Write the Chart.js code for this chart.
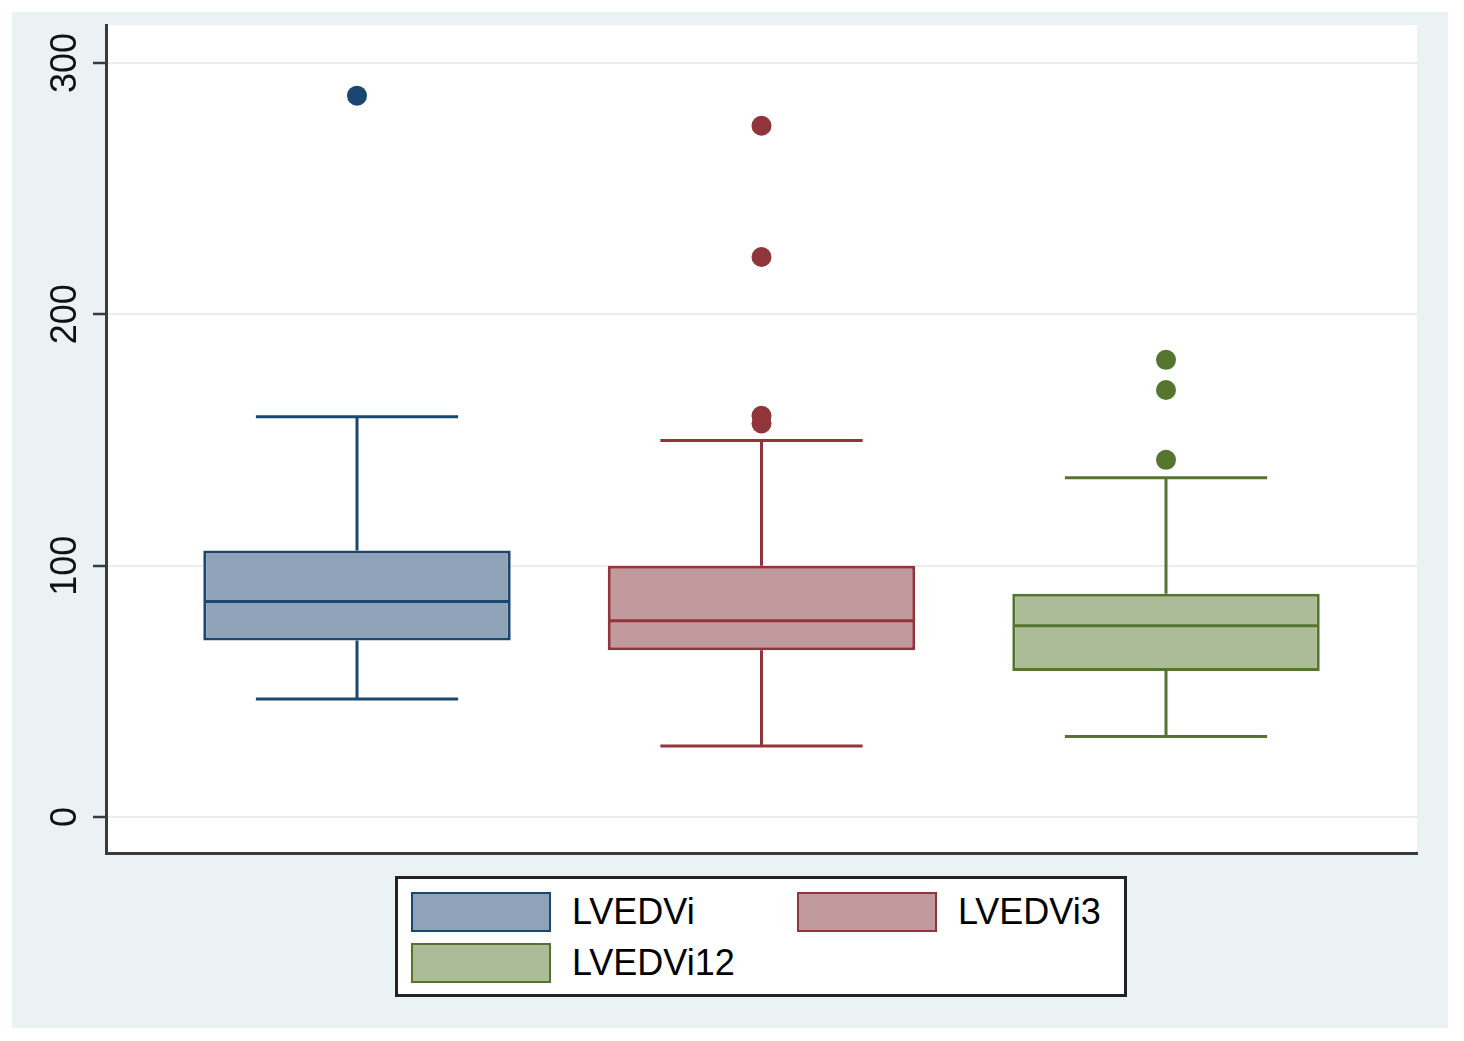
<!DOCTYPE html>
<html>
<head>
<meta charset="utf-8">
<script src="https://cdn.jsdelivr.net/npm/chart.js@4/dist/chart.umd.min.js"></script>
<style>
  html, body { margin: 0; padding: 0; background: #ffffff; }
  #frame { position: absolute; left: 12px; top: 12px; width: 1436px; height: 1016px; background: #eaf2f3; }
  #plot { position: absolute; left: 0; top: 0; }
  #legend {
    position: absolute; left: 395px; top: 876px; width: 732px; height: 121px;
    box-sizing: border-box; border: 3px solid #222; background: #fff;
    padding: 13px 0 0 13px;
    display: grid; grid-template-columns: 386px auto; grid-auto-rows: 51px;
    font-family: "Liberation Sans", Arial, sans-serif; font-size: 36px; color: #000;
  }
  .item { display: flex; align-items: flex-start; height: 40px; }
  .item span.sw { width: 140px; height: 40px; box-sizing: border-box; border: 2px solid; margin-right: 21px; }
  .item span.tx { line-height: 40px; }
</style>
</head>
<body>
<div id="frame"></div>
<canvas id="plot" width="1464" height="1041"></canvas>
<div id="legend"></div>
<script>
// data
var categories = ['LVEDVi', 'LVEDVi3', 'LVEDVi12'];
var lowerWhisker = [47, 28.3, 32];
var q1 = [70.2, 66.4, 58.1];
var median = [85.8, 78.1, 76.1];
var q3 = [106, 100, 88.8];
var upperWhisker = [159.3, 149.8, 135];
var outliers = [[287], [275, 222.8, 159.6, 156.6], [181.9, 169.9, 142.1]];
var yTicks = [0, 100, 200, 300];

var strokeColors = ['#1a476f', '#90353b', '#55752f'];
var fillColors = ['#8fa3b8', '#c19a9e', '#adbc98'];

var BOX_HALF = 0.377;
var CAP_HALF = 0.25;

Chart.defaults.font.family = '"Liberation Sans", Arial, sans-serif';

var datasets = [];

// boxes as floating bars
datasets.push({
    type: 'bar',
    label: 'boxes',
    data: categories.map(function (c, i) { return { x: i + 1, y: [q1[i], q3[i]] }; }),
    backgroundColor: fillColors,
    borderColor: strokeColors,
    borderWidth: 3,
    borderSkipped: false,
    categoryPercentage: 1,
    barPercentage: 0.76,
    order: 2
});

// whiskers, caps and median
categories.forEach(function (c, i) {
    var x = i + 1;
    datasets.push({
        type: 'line',
        label: c + ' lines',
        data: [
            { x: x, y: q3[i] }, { x: x, y: upperWhisker[i] }, { x: x, y: null },
            { x: x - CAP_HALF, y: upperWhisker[i] }, { x: x + CAP_HALF, y: upperWhisker[i] }, { x: x, y: null },
            { x: x, y: q1[i] }, { x: x, y: lowerWhisker[i] }, { x: x, y: null },
            { x: x - CAP_HALF, y: lowerWhisker[i] }, { x: x + CAP_HALF, y: lowerWhisker[i] }, { x: x, y: null },
            { x: x - BOX_HALF, y: median[i] }, { x: x + BOX_HALF, y: median[i] }
        ],
        borderColor: strokeColors[i],
        borderWidth: 3,
        pointRadius: 0,
        spanGaps: false,
        fill: false,
        tension: 0,
        order: 1
    });
});

// outside values
var outPts = [], outCols = [];
outliers.forEach(function (list, i) {
    list.forEach(function (v) {
        outPts.push({ x: i + 1, y: v });
        outCols.push(strokeColors[i]);
    });
});
datasets.push({
    type: 'scatter',
    label: 'outliers',
    data: outPts,
    pointRadius: 10,
    pointBackgroundColor: outCols,
    pointBorderWidth: 0,
    order: 0
});

var plotBg = {
    id: 'plotBg',
    beforeDraw: function (chart) {
        var a = chart.chartArea, ctx = chart.ctx;
        ctx.save();
        ctx.fillStyle = '#ffffff';
        ctx.fillRect(a.left, a.top, a.right - a.left, a.bottom - a.top);
        ctx.restore();
    }
};

new Chart(document.getElementById('plot'), {
    type: 'bar',
    data: { datasets: datasets },
    plugins: [plotBg],
    options: {
        responsive: false,
        animation: false,
        devicePixelRatio: 1,
        layout: { padding: { left: 20, right: 47, top: 25, bottom: 188 } },
        plugins: { legend: { display: false }, tooltip: { enabled: false } },
        scales: {
            x: {
                type: 'linear',
                offset: false,
                min: 0.3795,
                max: 3.6205,
                afterBuildTicks: function (axis) {
                    axis.ticks = categories.map(function (c, i) { return { value: i + 1 }; });
                },
                afterFit: function (axis) { axis.height = 0; },
                ticks: { display: false },
                grid: { display: false, offset: false },
                border: { display: true, color: '#3a3a3a', width: 3 }
            },
            y: {
                min: -14.3,
                max: 315.1,
                afterBuildTicks: function (axis) {
                    axis.ticks = yTicks.map(function (v) { return { value: v }; });
                },
                afterFit: function (axis) { axis.width = 86; },
                ticks: {
                    minRotation: 90,
                    maxRotation: 90,
                    crossAlign: 'center',
                    padding: -3,
                    color: '#111',
                    font: { size: 36 }
                },
                grid: {
                    color: '#e6eef0',
                    lineWidth: 2,
                    tickLength: 13,
                    tickColor: '#3a3a3a',
                    tickWidth: 2.5
                },
                border: { display: true, color: '#3a3a3a', width: 3 }
            }
        }
    }
});

// legend
var legend = document.getElementById('legend');
categories.forEach(function (c, i) {
    var item = document.createElement('div');
    item.className = 'item';
    var sw = document.createElement('span');
    sw.className = 'sw';
    sw.style.background = fillColors[i];
    sw.style.borderColor = strokeColors[i];
    var tx = document.createElement('span');
    tx.className = 'tx';
    tx.textContent = c;
    item.appendChild(sw);
    item.appendChild(tx);
    legend.appendChild(item);
});
</script>
</body>
</html>
